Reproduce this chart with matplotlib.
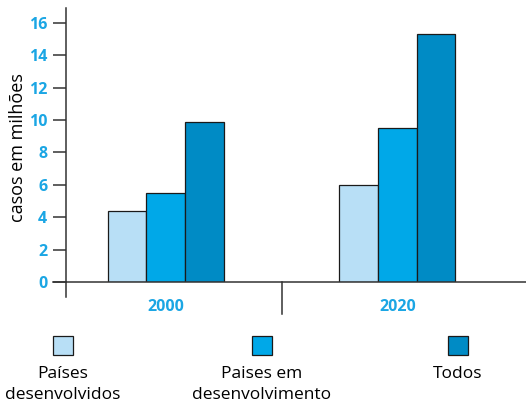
import matplotlib.pyplot as plt
from matplotlib.patches import Rectangle

plt.rcParams["font.family"] = ["Open Sans", "DejaVu Sans"]

years = ["2000", "2020"]
series = ["Países\ndesenvolvidos", "Paises em\ndesenvolvimento", "Todos"]
values = {
    "Países\ndesenvolvidos": [4.4, 6.0],
    "Paises em\ndesenvolvimento": [5.5, 9.5],
    "Todos": [9.9, 15.3],
}
colors = ["#b8dff6", "#00a8e8", "#008bc5"]
yticks = [0, 2, 4, 6, 8, 10, 12, 14, 16]

blue_text = "#1ba6e4"
edge = "#1a1a1a"
axis_col = "#333333"

fig = plt.figure(figsize=(5.26, 4.05), dpi=100)
ax = fig.add_axes([66 / 526, 1 - 282 / 405, 1 - 66 / 526, (282 - 8) / 405])

width = 1 / 6
offsets = [-width, 0, width]
for name, color, off in zip(series, colors, offsets):
    ax.bar([i + off for i in range(len(years))], values[name], width=width,
           color=color, edgecolor=edge, linewidth=0.9, zorder=3)

ax.set_xlim(-0.429, 1.554)
ax.set_ylim(0, 16.92)
ax.set_xticks([])
ax.set_yticks(yticks)
ax.set_yticklabels([str(t) for t in yticks], color=blue_text,
                   fontweight="bold", fontsize=11.5)
ax.tick_params(axis="y", direction="out", length=9.5, width=1.1,
               color=axis_col, pad=4)
for s in ["top", "right"]:
    ax.spines[s].set_visible(False)
ax.spines["left"].set_color(axis_col)
ax.spines["left"].set_linewidth(1.1)
ax.spines["bottom"].set_color(axis_col)
ax.spines["bottom"].set_linewidth(1.1)
ax.spines["bottom"].set_zorder(4)

# axis stubs below the baseline and the group separator
ax.plot([-0.485, -0.429], [0, 0], color=axis_col, lw=1.1, clip_on=False)
ax.plot([-0.429, -0.429], [0, -0.93], color=axis_col, lw=1.1, clip_on=False)
ax.plot([0.5, 0.5], [0, -1.98], color=axis_col, lw=1.1, clip_on=False)

for i, y in enumerate(years):
    ax.text(i, -1.55, y, ha="center", va="center", color=blue_text,
            fontweight="bold", fontsize=11.5)

ax.set_ylabel("casos em milhões", fontsize=13)
ax.yaxis.set_label_coords(-0.085, 0.49)

# legend: swatch above each label
swatch_x = [53, 252, 448]
for x0, name, color in zip(swatch_x, series, colors):
    fig.add_artist(Rectangle((x0 / 526, 1 - 355 / 405), 20 / 526, 19 / 405,
                             transform=fig.transFigure, facecolor=color,
                             edgecolor=edge, linewidth=0.9))
    fig.text((x0 + 10) / 526, 1 - 366 / 405, name, ha="center", va="top",
             fontsize=12.5, linespacing=1.4)

fig.savefig("out.png", dpi=100)
